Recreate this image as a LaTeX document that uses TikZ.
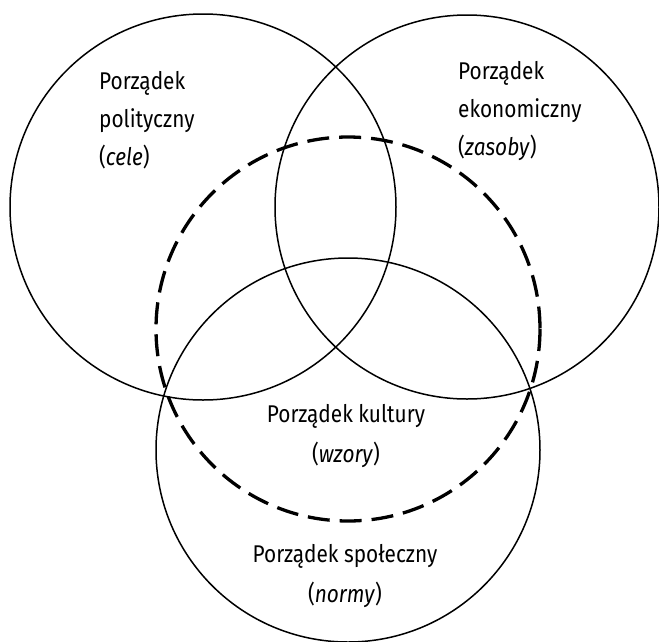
\documentclass[tikz,border=0pt]{standalone}
\usepackage{fontspec}
\setmainfont{Fira Sans}[FakeStretch=0.86]
\begin{document}
\begin{tikzpicture}[x=1pt,y=-1pt,
  ring/.style={draw=black,line width=1.5pt},
  dashring/.style={draw=black,line width=3.3pt,dash pattern=on 22pt off 10pt},
  lbl/.style={inner sep=0pt,font=\fontsize{24.2}{28}\selectfont},
  lblw/.style={lbl,anchor=base west},
  lblc/.style={lbl,anchor=base}]
\useasboundingbox[fill=white] (0,0) rectangle (659,641);
\draw[ring] (203,207) circle[radius=193];
\draw[ring] (467,207) circle[radius=192];
\draw[ring] (348,450) circle[radius=192];
\draw[dashring] (348,329) circle[radius=192];
% left block
\node[lblw] (p1) at (99,89) {Porządek};
\node[lblw] (p2) at (99,127) {polityczny};
\node[lblw] (p3) at (99,165) {(\textit{cele})};
% right block
\node[lblw] (e1) at (458,79) {Porządek};
\node[lblw] (e2) at (458,117) {ekonomiczny};
\node[lblw] (e3) at (458,155) {(\textit{zasoby})};
% culture
\node[lblc] (k1) at (346,422) {Porządek kultury};
\node[lblc] (k2) at (346,462) {(\textit{wzory})};
% social
\node[lblc] (s1) at (345,562) {Porządek społeczny};
\node[lblc] (s2) at (345,602) {(\textit{normy})};
\end{tikzpicture}
\end{document}
